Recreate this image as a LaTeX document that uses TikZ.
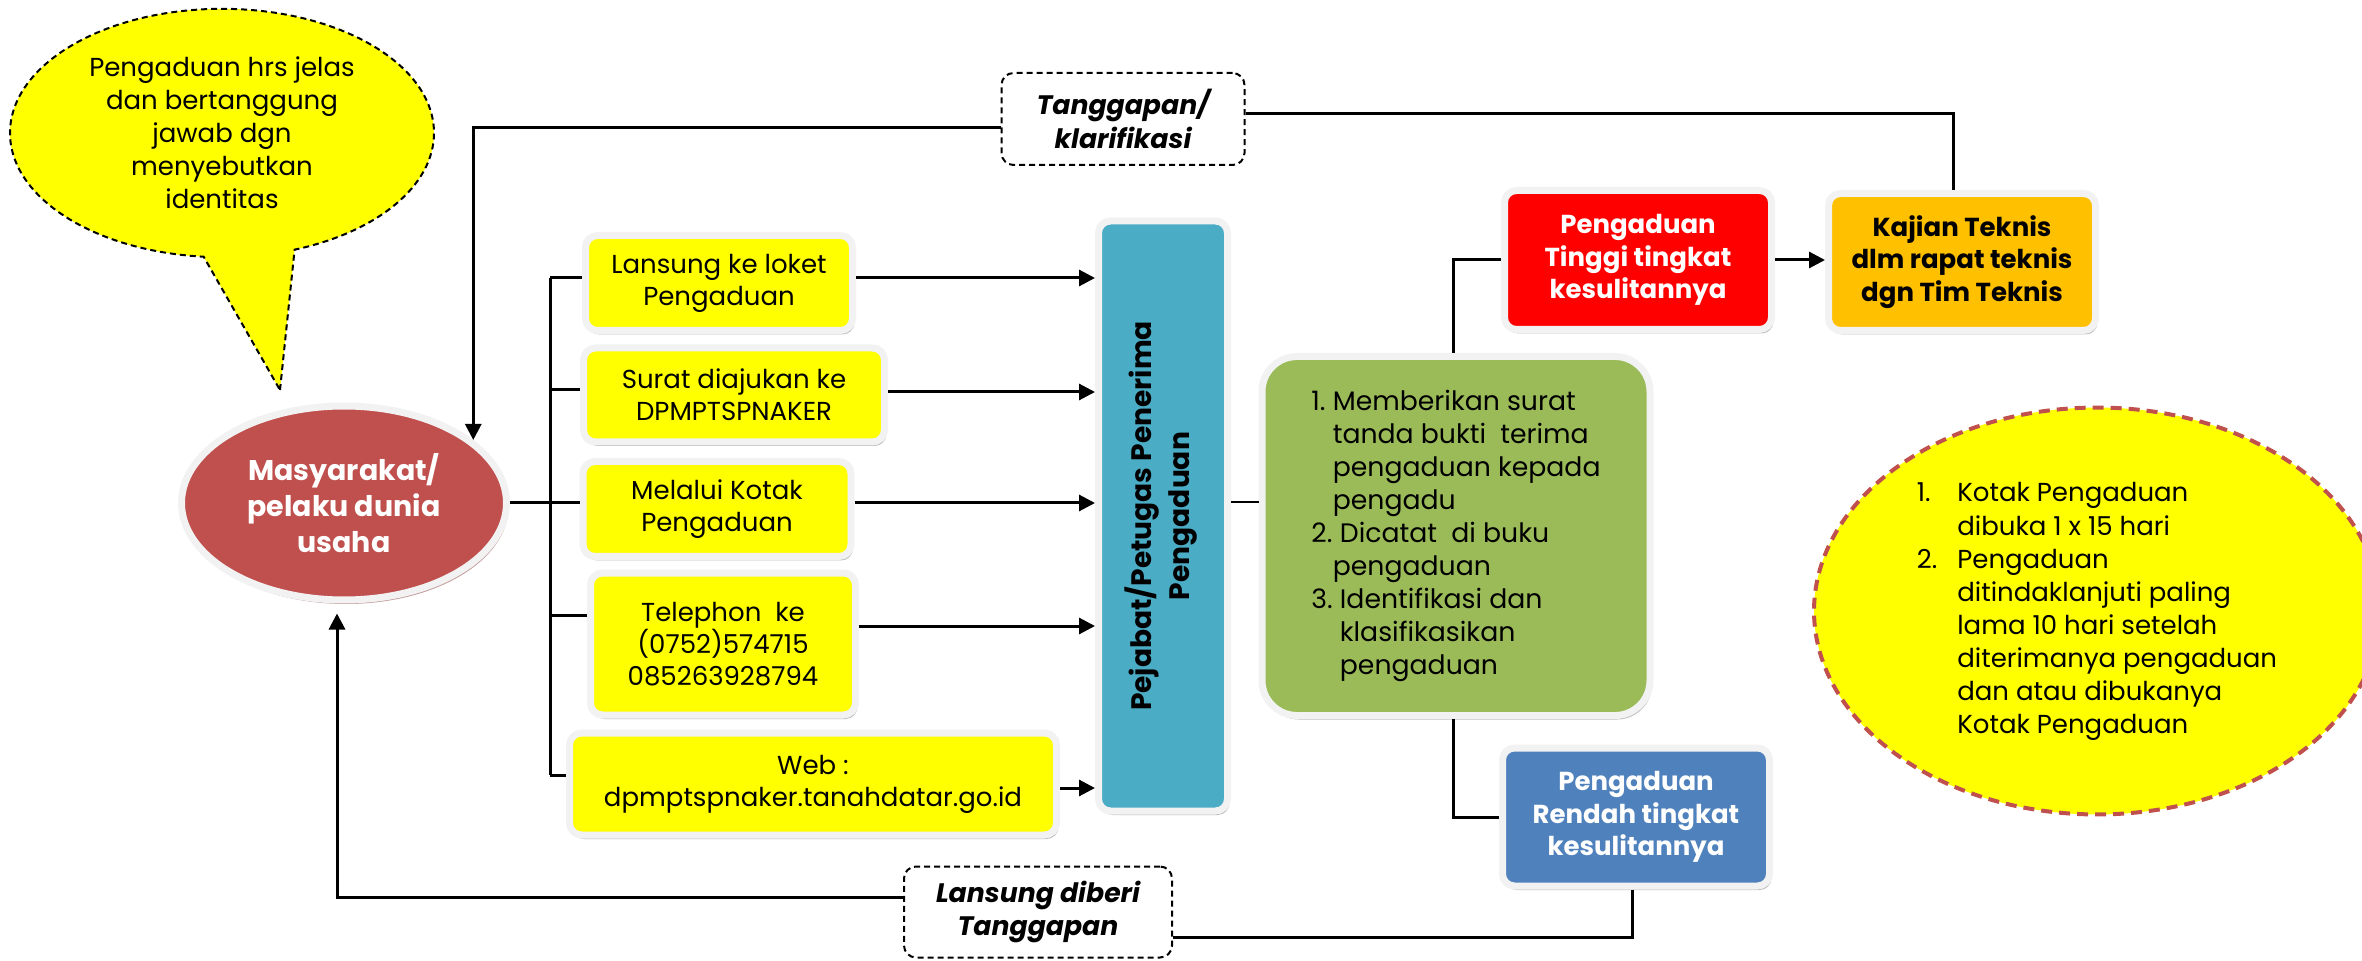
\documentclass[tikz,border=0pt]{standalone}
\usepackage{fontspec}
\setmainfont{Poppins}
\usetikzlibrary{shapes.geometric,shapes.callouts,shadows,arrows.meta}

\definecolor{kuning}{HTML}{FFFF00}
\definecolor{biru}{HTML}{4BACC6}
\definecolor{hijau}{HTML}{9BBB59}
\definecolor{merah}{HTML}{FF0000}
\definecolor{emas}{HTML}{FFC000}
\definecolor{birutua}{HTML}{4F81BD}
\definecolor{marun}{HTML}{C0504D}
\definecolor{bingkai}{HTML}{F2F2F2}

\tikzset{
  kotak/.style={rectangle, rounded corners=1.2mm, draw=bingkai, line width=0.7mm, align=center, inner sep=0pt,
    drop shadow={shadow xshift=0.2mm, shadow yshift=-0.4mm, fill=black!45, opacity=0.6}},
  saluran/.style={kotak, fill=kuning, font=\fontsize{7.4}{9.1}\selectfont},
  hasil/.style={kotak, font=\fontsize{7.4}{9.2}\selectfont\bfseries},
  catatan/.style={rectangle, rounded corners=1.2mm, draw, dash pattern={on 0.6mm off 0.4mm}, line width=0.2mm,
    align=center, inner sep=0pt, font=\fontsize{7.6}{9.6}\selectfont\bfseries\itshape},
  garis/.style={line width=0.3mm},
  panah/.style={garis, -{Triangle[length=1.6mm,width=1.6mm]}}
}

\begin{document}
\begin{tikzpicture}[x=0.1mm,y=-0.1mm]
	\useasboundingbox (0,0) rectangle (2362,961);

	% Callout and notes
	\node[ellipse callout, fill=kuning, draw, dash pattern={on 0.6mm off 0.4mm}, line width=0.2mm,
	  minimum width=42.4mm, minimum height=24.8mm, callout absolute pointer={(280,390)}, callout pointer arc=25,
	  align=center, font=\fontsize{7.4}{9.4}\selectfont] (syarat) at (222,133)
	  {Pengaduan hrs jelas\\dan bertanggung\\jawab dgn\\menyebutkan\\identitas};
	\node[ellipse, fill=kuning, draw=marun, line width=0.4mm, dash pattern={on 1.1mm off 0.7mm},
	  minimum width=56.6mm, minimum height=40.6mm, font=\fontsize{7.4}{9.4}\selectfont] (ketentuan) at (2097,611)
	  {\begin{tabular}{@{}l@{\hspace{2mm}}l@{}}
	    1.&Kotak Pengaduan\\ &dibuka 1 x 15 hari\\
	    2.&Pengaduan\\ &ditindaklanjuti paling\\ &lama 10 hari setelah\\
	    &diterimanya pengaduan\\ &dan atau dibukanya\\ &Kotak Pengaduan
	  \end{tabular}};

	% Masyarakat and the channels
	\node[ellipse, fill=marun, draw=bingkai, line width=0.7mm, minimum width=32.5mm, minimum height=19.4mm,
	  text=white, align=center, font=\fontsize{8.1}{10.2}\selectfont\bfseries,
	  drop shadow={shadow xshift=0.2mm, shadow yshift=-0.4mm, fill=marun!70!black, opacity=0.5}] (masy) at (344,503)
	  {Masyarakat/\\pelaku dunia\\usaha};
	\node[saluran, minimum width=26.7mm, minimum height=9.5mm] (loket) at (719,283) {Lansung ke loket\\Pengaduan};
	\node[saluran, minimum width=30.1mm, minimum height=9.4mm] (surat) at (734,395) {Surat diajukan ke\\DPMPTSPNAKER};
	\node[saluran, minimum width=26.8mm, minimum height=9.5mm] (kotakpgd) at (717,509) {Melalui Kotak\\Pengaduan};
	\node[saluran, minimum width=26.5mm, minimum height=14.2mm] (telp) at (723,644) {Telephon\ \ ke\\(0752)574715\\085263928794};
	\node[saluran, minimum width=48.7mm, minimum height=10.2mm] (web) at (813,784) {Web :\\dpmptspnaker.tanahdatar.go.id};

	% Receiving officer and processing
	\node[kotak, fill=biru, minimum width=12.9mm, minimum height=59mm, font=\fontsize{8}{10.8}\selectfont\bfseries] (pejabat) at (1163,516)
	  {\rotatebox{90}{\begin{tabular}{@{}c@{}}Pejabat/Petugas Penerima\\Pengaduan\end{tabular}}};
	\node[kotak, fill=hijau, rounded corners=3.5mm, minimum width=38.8mm, minimum height=35.9mm,
	  font=\fontsize{7.6}{9.4}\selectfont] (proses) at (1456,536)
	  {\begin{tabular}{@{}l@{}l@{}}
	    1.&Memberikan surat\\ &tanda bukti\ \ terima\\ &pengaduan kepada\\ &pengadu\\
	    2.&\ Dicatat\ \ di buku\\ &pengaduan\\
	    3.&\ Identifikasi dan\\ &\ klasifikasikan\\ &\ pengaduan
	  \end{tabular}};
	\node[hasil, fill=merah, text=white, minimum width=26.7mm, minimum height=13.9mm] (tinggi) at (1638,260) {Pengaduan\\Tinggi tingkat\\kesulitannya};
	\node[hasil, fill=emas, minimum width=26.7mm, minimum height=13.7mm] (kajian) at (1962,262) {Kajian Teknis\\dlm rapat teknis\\dgn Tim Teknis};
	\node[hasil, fill=birutua, text=white, minimum width=26.7mm, minimum height=13.8mm] (rendah) at (1636,817) {Pengaduan\\Rendah tingkat\\kesulitannya};

	% Feedback labels
	\node[catatan, minimum width=24.3mm, minimum height=9.2mm] (tanggapan) at (1123,119) {Tanggapan/\\klarifikasi};
	\node[catatan, minimum width=26.8mm, minimum height=9.1mm] (langsung) at (1038,912) {Lansung diberi\\Tanggapan};

	% Branch to the channels
	\coordinate (cabang atas) at (550,278);
	\coordinate (cabang bawah) at (550,775);
	\draw[garis] (cabang atas) -- (cabang bawah);
	\draw[garis] (masy.east) -- (masy.east -| kotakpgd.west);
	\draw[garis] (cabang atas) -- (cabang atas -| loket.west);
	\draw[garis] ([yshift=0.5mm]surat.west) -- ([yshift=0.5mm]surat.west -| cabang atas);
	\draw[garis] ([yshift=2.9mm]telp.west) -- ([yshift=2.9mm]telp.west -| cabang atas);
	\draw[garis] (cabang bawah) -- (cabang bawah -| web.west);

	% Channels to the officer
	\foreach \asal/\geser in {loket/0.5, surat/0.3, kotakpgd/0.6, telp/1.8, web/-0.4}
	  \draw[panah] ([yshift=\geser mm]\asal.east) -- ([yshift=\geser mm]\asal.east -| pejabat.west);

	\draw[garis] ([yshift=1.4mm]pejabat.east) -- ([yshift=1.4mm]pejabat.east -| proses.west);
	\draw[garis] ([xshift=-0.3mm]proses.north) |- (tinggi.west);
	\draw[garis] ([xshift=-0.3mm]proses.south) |- (rendah.west);
	\draw[panah] (tinggi.east) -- (tinggi.east -| kajian.west);

	% Answers back to the public
	\draw[garis] ([xshift=-0.9mm]kajian.north) |- ([yshift=0.5mm]tanggapan.east);
	\draw[panah] ([yshift=-0.9mm]tanggapan.west) -| (masy.26);
	\draw[garis] ([xshift=-0.4mm]rendah.south) |- ([yshift=-2.5mm]langsung.east);
	\draw[panah] ([yshift=1.5mm]langsung.west) -| ([xshift=-0.7mm,yshift=-1mm]masy.south);
\end{tikzpicture}
\end{document}
